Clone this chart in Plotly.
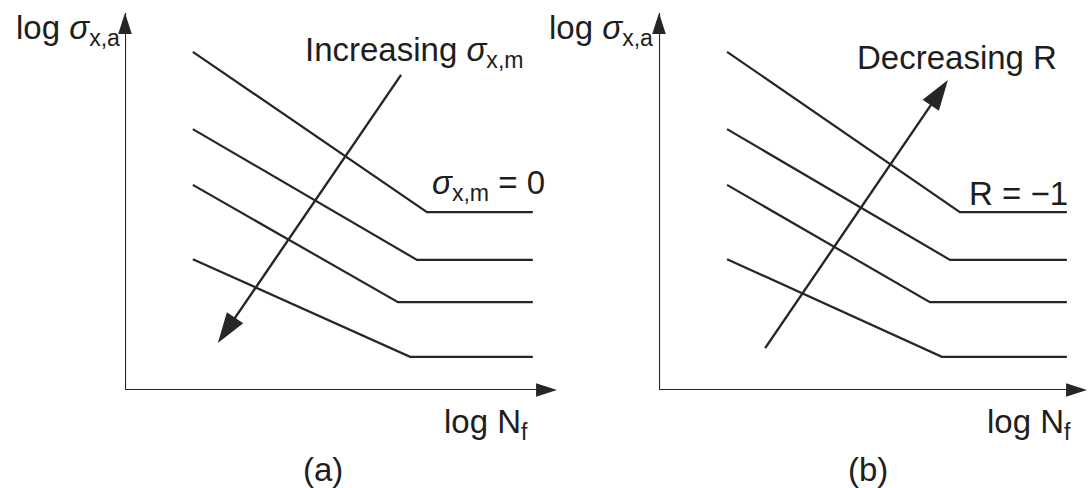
import plotly.graph_objects as go

# S-N curves (log amplitude vs log life), four levels of mean stress.
# Each curve: start of sloped branch, knee (endurance limit), end of plateau.
a_start_x = [1.57, 1.57, 1.57, 1.57]
a_start_y = [8.97, 6.92, 5.44, 3.47]
a_knee_x = [6.99, 6.76, 6.32, 6.60]
a_knee_y = [4.72, 3.45, 2.33, 0.88]
a_end_x = [9.44, 9.44, 9.44, 9.44]

b_start_x = [1.59, 1.59, 1.59, 1.59]
b_start_y = [8.97, 6.92, 5.44, 3.47]
b_knee_x = [7.03, 6.80, 6.33, 6.61]
b_knee_y = [4.72, 3.45, 2.33, 0.88]
b_end_x = [9.53, 9.53, 9.53, 9.53]

# Trend arrows (tail -> head)
a_arrow_x = [6.39, 2.15]
a_arrow_y = [8.36, 1.25]
b_arrow_x = [2.48, 6.75]
b_arrow_y = [1.11, 8.22]

# Axis extents
axis_len_x = 10
axis_len_y = 10

INK = "#262626"
TXT = "#1e1e1e"
FONT = "Liberation Sans, Arial, sans-serif"
W, H = 1088, 488

fig = go.Figure()


def add_curves(sx, sy, kx, ky, ex, xa, ya):
    for x0, y0, x1, y1, x2 in zip(sx, sy, kx, ky, ex):
        fig.add_trace(go.Scatter(
            x=[x0, x1, x2], y=[y0, y1, y1], mode="lines",
            line=dict(color=INK, width=2.2), xaxis=xa, yaxis=ya,
            hoverinfo="skip", showlegend=False, cliponaxis=False))


def add_arrow(xs, ys, xa, ya, width, head):
    fig.add_trace(go.Scatter(
        x=xs, y=ys, mode="lines+markers",
        line=dict(color=INK, width=width),
        marker=dict(symbol="arrow", size=[0, head], angleref="previous",
                    color=INK, opacity=1, line=dict(width=0)),
        xaxis=xa, yaxis=ya, hoverinfo="skip", showlegend=False,
        cliponaxis=False))


for xa, ya in (("x", "y"), ("x2", "y2")):
    add_arrow([0, 0], [0, axis_len_y], xa, ya, 2.2, 22)
    add_arrow([0, axis_len_x], [0, 0], xa, ya, 2.2, 22)

add_curves(a_start_x, a_start_y, a_knee_x, a_knee_y, a_end_x, "x", "y")
add_curves(b_start_x, b_start_y, b_knee_x, b_knee_y, b_end_x, "x2", "y2")
add_arrow(a_arrow_x, a_arrow_y, "x", "y", 2.4, 32)
add_arrow(b_arrow_x, b_arrow_y, "x2", "y2", 2.4, 32)


def label(text, x, y, xref="paper", yref="paper", xanchor="left"):
    fig.add_annotation(text=text, x=x, y=y, xref=xref, yref=yref,
                       xanchor=xanchor, yanchor="middle", showarrow=False,
                       font=dict(family=FONT, size=33, color=TXT))


def px(x):
    return x / W


def py(y):
    return 1 - y / H


sig_a = "log <i>σ</i><sub>x,a</sub>"
nf = "log N<sub>f</sub>"

# panel (a)
label(sig_a, px(122), py(30), xanchor="right")
label("Increasing <i>σ</i><sub>x,m</sub>", 4.12, 8.97, "x", "y")
label("<i>σ</i><sub>x,m</sub> = 0", 7.06, 5.44, "x", "y")
label(nf, px(442), py(424))
label("(a)", px(323), py(469), xanchor="center")

# panel (b)
label(sig_a, px(655), py(30), xanchor="right")
label("Decreasing R", 4.58, 8.81, "x2", "y2")
label("R = −1", 7.20, 5.2, "x2", "y2")
label(nf, px(985), py(424))
label("(b)", px(868), py(469), xanchor="center")

hidden = dict(visible=False, showgrid=False, zeroline=False)
fig.update_layout(
    width=W, height=H, margin=dict(l=0, r=0, t=0, b=0),
    paper_bgcolor="white", plot_bgcolor="white",
    xaxis=dict(domain=[125 / W, 557 / W], range=[0, 10], **hidden),
    yaxis=dict(domain=[98 / H, 475 / H], range=[0, 10], **hidden),
    xaxis2=dict(domain=[659 / W, 1087 / W], range=[0, 10], anchor="y2", **hidden),
    yaxis2=dict(domain=[98 / H, 475 / H], range=[0, 10], anchor="x2", **hidden),
)

fig.write_html("out.html")
